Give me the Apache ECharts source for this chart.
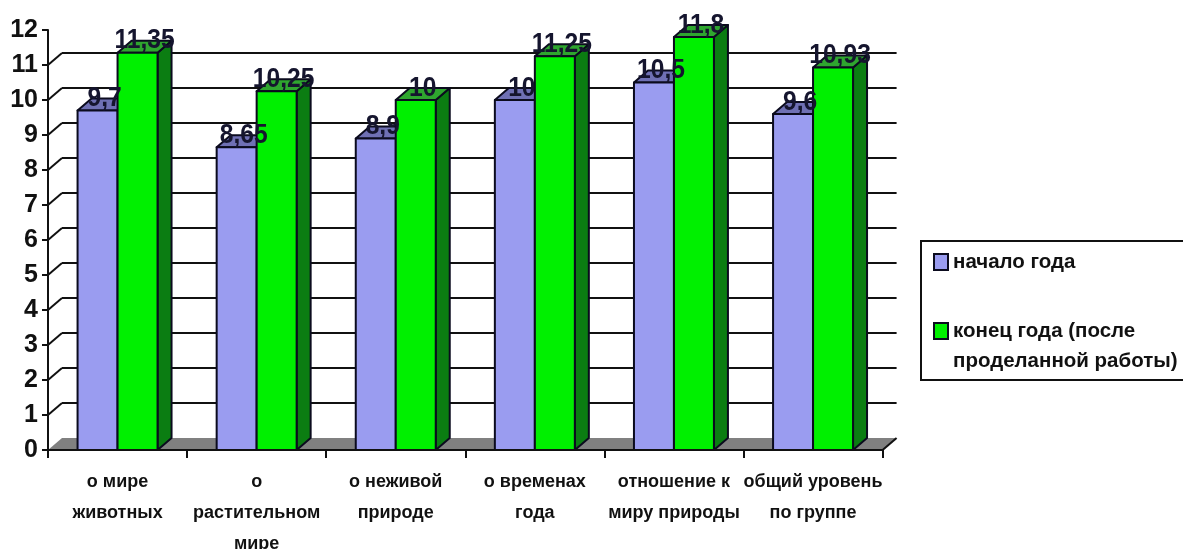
<!DOCTYPE html>
<html><head><meta charset="utf-8">
<style>html,body{margin:0;padding:0;background:#fff}#c{width:1183px;height:549px}</style>
<script src="https://cdn.jsdelivr.net/npm/echarts@6/dist/echarts.min.js"></script>
</head><body><div id="c"></div>
<script>
const categories = ['о мире\nживотных','о\nрастительном\nмире','о неживой\nприроде','о временах\nгода','отношение к\nмиру природы','общий уровень\nпо группе'];
const startYear = [9.7,8.65,8.9,10,10.5,9.6];
const endYear = [11.35,10.25,10,11.25,11.8,10.93];
const startLabels = ['9,7','8,65','8,9','10','10,5','9,6'];
const endLabels = ['11,35','10,25','10','11,25','11,8','10,93'];
const gridValues = [1,2,3,4,5,6,7,8,9,10,11];
const nameStart = 'начало года';
const nameEnd = 'конец года (после\nпроделанной работы)';

const FONT = '"Liberation Sans",Arial,sans-serif';
const DX = 14, DY = -12, LINE = '#0b0b1e';

function barSeries(name, values, labels, offset, z2, front, side, top) {
  return {
    type: 'custom', name, z: 3, clip: false, coordinateSystem: 'cartesian2d',
    itemStyle: {color: front},
    data: values.map((v, i) => [i, v, labels[i]]),
    encode: {x: 0, y: 1},
    renderItem(params, api) {
      const p = api.coord([api.value(0), api.value(1)]);
      const b = api.coord([api.value(0), 0]);
      const band = api.size([1, 0])[0];
      const w = band * 0.2875;
      const x0 = p[0] + offset * w, x1 = x0 + w, yt = p[1], yb = b[1];
      const st = {stroke: LINE, lineWidth: 2, lineJoin: 'round'};
      const poly = (pts, fill, zz) => ({type: 'polygon', z2: zz, shape: {points: pts}, style: Object.assign({fill}, st)});
      return {type: 'group', children: [
        poly([[x1,yt],[x1+DX,yt+DY],[x1+DX,yb+DY],[x1,yb]], side, z2),
        poly([[x0,yt],[x0+DX,yt+DY],[x1+DX,yt+DY],[x1,yt]], top, z2),
        poly([[x0,yt],[x1,yt],[x1,yb],[x0,yb]], front, z2 + 1),
        {type: 'text', z2: 20, x: (x0 + x1) / 2 + DX / 2, y: yt - 12, scaleX: 0.88, style: {
          text: api.value(2), x: 0, y: 0,
          align: 'center', verticalAlign: 'middle',
          fontFamily: FONT, fontWeight: 'bold', fontSize: 28, fill: '#15152e'
        }}
      ]};
    }
  };
}

const wallSeries = {
  type: 'custom', name: 'walls', silent: true, z: 3, clip: false,
  data: [0].concat(gridValues).map(v => [v]),
  encode: {y: 0},
  renderItem(params, api) {
    const v = api.value(0);
    const cs = params.coordSys;
    const y = api.coord([0, v])[1];
    const x0 = cs.x, x1 = cs.x + cs.width;
    if (v === 0) {
      return {type: 'group', children: [
        {type: 'polygon', z2: 0, shape: {points: [[x0,y],[x0+DX,y+DY],[x1+DX,y+DY],[x1,y]]}, style: {fill: '#808080'}},
        {type: 'line', z2: 1, shape: {x1: x1, y1: y, x2: x1+DX, y2: y+DY}, style: {stroke: '#111', lineWidth: 2}}
      ]};
    }
    return {type: 'group', children: [
      {type: 'line', z2: 1, shape: {x1: x0+DX, y1: y+DY, x2: x1+DX, y2: y+DY}, style: {stroke: '#111', lineWidth: 2}},
      {type: 'line', z2: 1, shape: {x1: x0, y1: y, x2: x0+DX, y2: y+DY}, style: {stroke: '#111', lineWidth: 2}}
    ]};
  }
};

const chart = echarts.init(document.getElementById('c'), null, {renderer: 'canvas'});
chart.setOption({
  animation: false,
  backgroundColor: '#fff',
  grid: {left: 48, top: 30, width: 834.6, height: 420, containLabel: false, outerBoundsMode: 'none'},
  xAxis: {
    type: 'category', data: categories, boundaryGap: true,
    axisLine: {lineStyle: {color: '#111', width: 2}},
    axisTick: {show: true, alignWithLabel: false, length: 8, lineStyle: {color: '#111', width: 2}},
    axisLabel: {interval: 0, margin: 17, fontFamily: FONT, fontWeight: 'bold', fontSize: 18, lineHeight: 31, color: '#111', hideOverlap: false},
    splitLine: {show: false}, z: 5
  },
  yAxis: {
    type: 'value', min: 0, max: 12, interval: 1,
    axisLine: {show: true, lineStyle: {color: '#111', width: 2}},
    axisTick: {show: true, length: 6, lineStyle: {color: '#111', width: 2}},
    axisLabel: {margin: 10, fontFamily: FONT, fontWeight: 'bold', fontSize: 25, color: '#111'},
    splitLine: {show: false}
  },
  legend: {
    left: 921, top: 241, orient: 'vertical', icon: 'rect', itemWidth: 14, itemHeight: 16, itemGap: 9,
    padding: [6, 10, 4, 12], borderColor: '#111', borderWidth: 2, backgroundColor: '#fff',
    itemStyle: {borderColor: LINE, borderWidth: 2},
    textStyle: {fontFamily: FONT, fontWeight: 'bold', fontSize: 20.5, color: '#111', lineHeight: 30},
    formatter: n => n === nameEnd ? '\n' + n : n,
    data: [{name: nameStart}, {name: nameEnd}]
  },
  series: [
    wallSeries,
    barSeries(nameStart, startYear, startLabels, -1, 2, '#9a9cf0', '#54549a', '#6f70b4'),
    barSeries(nameEnd, endYear, endLabels, 0, 5, '#00f000', '#0b7d12', '#2fa62f')
  ]
});
</script></body></html>
